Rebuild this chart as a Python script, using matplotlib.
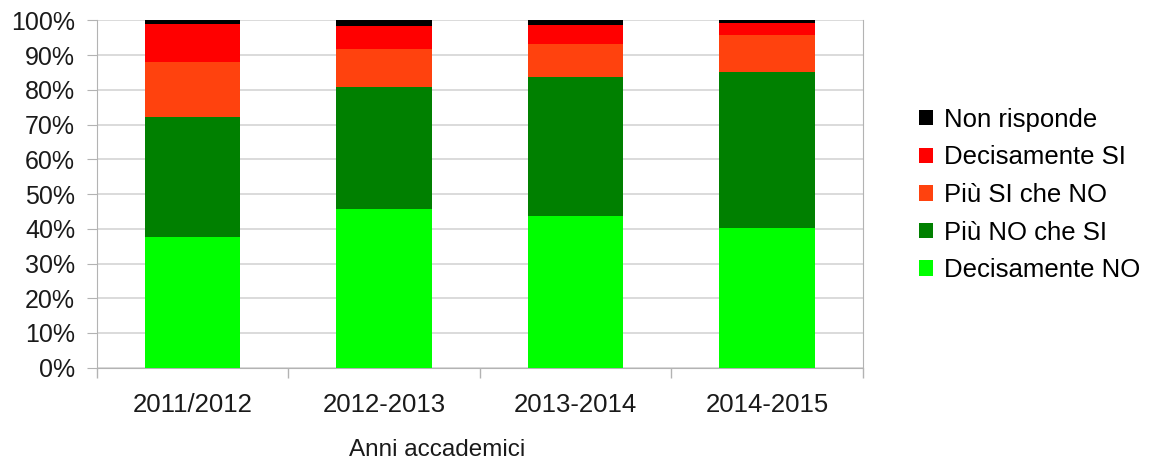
import numpy as np
import matplotlib.pyplot as plt

plt.rcParams['font.family'] = ['Liberation Sans', 'DejaVu Sans']

# data (percent)
years = ['2011/2012', '2012-2013', '2013-2014', '2014-2015']
dec_no = [37.5, 45.6, 43.7, 40.1]
piu_no = [34.6, 35.2, 40.0, 45.1]
piu_si = [15.9, 10.9, 9.6, 10.7]
dec_si = [10.9, 6.7, 5.4, 3.4]
non_risp = [1.1, 1.6, 1.3, 0.7]

series = [dec_no, piu_no, piu_si, dec_si, non_risp]
labels = ['Decisamente NO', 'Più NO che SI', 'Più SI che NO', 'Decisamente SI', 'Non risponde']
colors = ['#00ff00', '#008000', '#ff420e', '#ff0000', '#000000']

fig = plt.figure(figsize=(11.52, 4.63), dpi=100)
ax = fig.add_axes([0.0839, 0.2058, 0.665, 0.750])

x = np.arange(len(years))
bottom = np.zeros(len(years))
for vals, lab, col in zip(series, labels, colors):
    ax.bar(x, vals, width=0.5, bottom=bottom, color=col, label=lab, zorder=3)
    bottom += np.array(vals)

ax.set_xlim(-0.5, len(years) - 0.5)
ax.set_ylim(0, 100)
ax.set_yticks(np.arange(0, 101, 10))
ax.set_yticklabels([f'{v}%' for v in range(0, 101, 10)])
ax.set_xticks(x)
ax.set_xticklabels(years)
ax.set_xticks(np.arange(-0.5, len(years), 1), minor=True)
ax.tick_params(axis='x', which='major', length=0, labelsize=18.5, pad=18.5, colors='#1a1a1a')
ax.tick_params(axis='x', which='minor', length=7, color='#b3b3b3', width=1)
ax.tick_params(axis='y', length=7, color='#b3b3b3', labelsize=18, pad=8.5, labelcolor='#1a1a1a')
ax.grid(axis='y', color='#d4d4d4', linewidth=1.2, zorder=0)
for s in ax.spines.values():
    s.set_color('#b3b3b3')
ax.spines['top'].set_visible(False)

fig.text(437 / 1152, 1 - 450 / 463, 'Anni accademici', ha='center', va='center',
         fontsize=17.5, color='#1a1a1a')

h, l = ax.get_legend_handles_labels()
fig.legend(h[::-1], l[::-1], loc='center left', bbox_to_anchor=(0.789, 1 - 195 / 463),
           frameon=False, fontsize=18.5, handlelength=0.55, handleheight=0.55,
           handletextpad=0.4, labelspacing=0.53, borderaxespad=0)

fig.savefig('out.png', dpi=100)
